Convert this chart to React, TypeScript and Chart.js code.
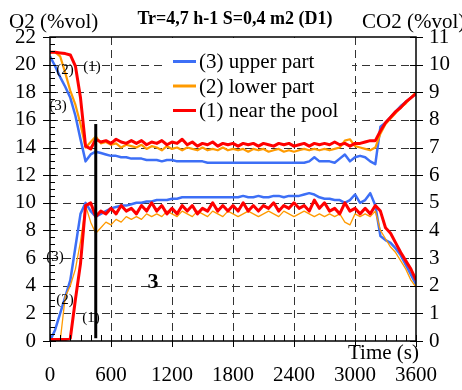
import React, { useEffect, useRef } from "react";
import { Chart, registerables } from "chart.js";
Chart.register(...registerables);

// time (s)
const TIME = [
  0, 50, 100, 150, 200, 250, 300, 350, 400, 450,
  500, 550, 600, 650, 700, 750, 800, 850, 900, 950,
  1000, 1050, 1100, 1150, 1200, 1250, 1300, 1350, 1400, 1450,
  1500, 1550, 1600, 1650, 1700, 1750, 1800, 1850, 1900, 1950,
  2000, 2050, 2100, 2150, 2200, 2250, 2300, 2350, 2400, 2450,
  2500, 2550, 2600, 2650, 2700, 2750, 2800, 2850, 2900, 2950,
  3000, 3050, 3100, 3150, 3200, 3250, 3300, 3350, 3400, 3450,
  3500, 3550, 3600,
];

// O2 (%vol), left axis
const O2_POOL = [
  20.9, 20.9, 20.85, 20.8, 20.7, 19.9, 17.6, 14.1, 13.9, 14.6,
  14.4, 14.5, 14.3, 14.6, 14.4, 14.3, 14.5, 14.3, 14.5, 14.2,
  14.4, 14.3, 14.5, 14.2, 14.4, 14.3, 14.6, 14.2, 14.4, 14.1,
  14.3, 14.2, 14.4, 14.1, 14.3, 14.2, 14.3, 14.1, 14.3, 14.2,
  14.3, 14.1, 14.3, 14.2, 14.1, 14.3, 14.2, 14.3, 14.1, 14.2,
  14.3, 14.1, 14.3, 14.2, 14.3, 14.2, 14.4, 14.2, 14.3, 14.1,
  14.3, 14.3, 14.4, 14.5, 14.5, 15.2, 15.8, 16.2, 16.6, 16.9,
  17.3, 17.6, 17.9,
];
const O2_LOWER = [
  20.9, 20.9, 20.6, 19.4, 18.1, 17.1, 15.7, 14.0, 14.4, 14.8,
  14.3, 14.4, 14.2, 14.3, 14.0, 14.2, 14.1, 14.0, 14.2, 13.9,
  14.1, 14.0, 13.8, 14.1, 13.9, 14.0, 13.8, 14.0, 13.9, 13.8,
  14.0, 13.8, 13.9, 13.8, 14.0, 13.8, 13.9, 13.8, 13.9, 13.7,
  13.9, 13.8, 13.9, 13.7, 13.8, 13.9, 13.7, 13.8, 13.7, 13.8,
  13.9, 13.8, 13.9, 13.8, 13.9, 13.8, 13.9, 14.0, 14.5, 14.6,
  14.1, 14.0, 13.9, 13.8, 14.0, 15.0, 15.7, 16.1, 16.5, 16.9,
  17.2, 17.6, 18.0,
];
const O2_UPPER = [
  20.6, 19.9, 19.1, 18.4, 17.6, 16.3, 14.6, 13.0, 13.5, 13.7,
  13.6, 13.5, 13.4, 13.4, 13.3, 13.3, 13.2, 13.2, 13.2, 13.1,
  13.1, 13.1, 13.0, 13.1, 13.1, 13.0, 13.0, 13.0, 13.0, 13.0,
  13.0, 12.9, 12.9, 12.9, 12.9, 12.9, 12.9, 12.9, 12.9, 12.9,
  12.9, 12.9, 12.9, 12.9, 12.9, 12.9, 12.9, 12.9, 12.9, 12.9,
  12.9, 13.0, 13.3, 13.0, 13.0, 13.0, 12.9, 13.2, 13.5, 13.0,
  13.3, 13.4, 13.3, 13.0, 12.8, 15.5, 15.8, 16.2, 16.6, 17.0,
  17.3, 17.6, 17.9,
];

// CO2 (%vol), right axis
const CO2_POOL = [
  0.05, 0.05, 0.05, 0.05, 0.1, 1.5, 2.8, 4.9, 5.0, 4.5,
  4.7, 4.6, 4.8, 4.6, 4.9, 4.7, 4.8, 4.6, 4.9, 4.7,
  5.0, 4.7, 4.9, 4.6, 4.8, 4.6, 4.9, 4.7, 4.9, 4.6,
  4.8, 4.7, 5.0, 4.7, 4.9, 4.7, 4.9, 4.7, 5.0, 4.7,
  4.9, 4.7, 4.9, 4.8, 5.0, 4.7, 4.9, 4.8, 5.0, 4.8,
  4.9, 4.7, 5.1, 4.8, 5.0, 4.7, 4.8, 4.6, 5.0, 4.7,
  4.8, 4.6, 4.8, 4.6, 4.9, 4.7, 4.1, 3.9, 3.55, 3.2,
  2.9, 2.6, 2.2,
];
const CO2_LOWER = [
  0.0, 0.0, 0.0, 1.6, 2.0, 2.6, 3.6, 4.9, 4.3, 3.9,
  4.1, 4.3, 4.2, 4.4, 4.3, 4.5, 4.4, 4.5, 4.4, 4.6,
  4.5, 4.6, 4.5, 4.7, 4.6, 4.5, 4.7, 4.6, 4.5, 4.7,
  4.6, 4.5, 4.7, 4.6, 4.5, 4.7, 4.6, 4.5, 4.6, 4.7,
  4.6, 4.5, 4.6, 4.7, 4.6, 4.5, 4.7, 4.6, 4.5, 4.6,
  4.7, 4.6, 4.5, 4.6, 4.5, 4.6, 4.5, 4.6, 4.3, 4.2,
  4.6, 4.5, 4.6, 4.5, 4.7, 4.0, 3.7, 3.4, 3.2, 2.9,
  2.6, 2.2, 1.95,
];
const CO2_UPPER = [
  0.0, 0.4, 1.0, 1.6, 2.2, 3.4, 4.6, 5.0, 4.7, 4.5,
  4.6, 4.7, 4.8, 4.85, 4.9, 4.9, 4.95, 5.0, 5.0, 5.05,
  5.05, 5.1, 5.1, 5.1, 5.15, 5.15, 5.2, 5.2, 5.2, 5.2,
  5.2, 5.2, 5.2, 5.2, 5.2, 5.2, 5.2, 5.2, 5.25, 5.2,
  5.2, 5.25, 5.2, 5.2, 5.25, 5.25, 5.2, 5.25, 5.25, 5.25,
  5.3, 5.35, 5.3, 5.2, 5.15, 5.15, 5.1, 5.1, 5.0, 5.1,
  5.3, 5.0, 5.1, 5.35, 4.9, 3.8, 3.65, 3.55, 3.35, 3.1,
  2.75, 2.4, 2.05,
];

const LEGEND_LABELS = ["(3) upper part", "(2) lower part", "(1) near the pool"];
const TITLE = "Tr=4,7 h-1 S=0,4 m2 (D1)";
const LEFT_TITLE = "O2 (%vol)";
const RIGHT_TITLE = "CO2 (%vol)";
const X_TITLE = "Time (s)";
// curve labels: [text, time, O2]
const CURVE_LABELS: [string, number, number][] = [
  ["(1)", 413, 19.85],
  ["(2)", 148, 19.6],
  ["(3)", 79, 17.0],
  ["(3)", 49, 6.1],
  ["(2)", 148, 2.97],
  ["(1)", 403, 1.67],
];
const PHASE_LABEL: [string, number, number] = ["3", 1013, 4.28];
const MARKER_TIME = 450;
const MARKER_TOP = 15.7;

const BLUE = "#3d6ff6";
const ORANGE = "#ff9a00";
const RED = "#ff0000";
const COLORS = [BLUE, ORANGE, RED];
const FONT = "'Liberation Serif', 'Times New Roman', serif";

const overlay = {
  id: "overlay",
  beforeDatasetsDraw(chart: any) {
    const { ctx, chartArea: a, scales } = chart;
    const x = scales.x, y = scales.y;
    ctx.save();
    ctx.strokeStyle = "#333";
    ctx.lineWidth = 1;
    ctx.setLineDash([8, 5]);
    for (let t = 600; t < 3600; t += 600) {
      const px = Math.round(x.getPixelForValue(t)) + 0.5;
      ctx.beginPath();
      ctx.moveTo(px, a.top);
      ctx.lineTo(px, a.bottom);
      ctx.stroke();
    }
    for (let v = 2; v < 22; v += 2) {
      const py = Math.round(y.getPixelForValue(v)) + 0.5;
      ctx.beginPath();
      ctx.moveTo(a.left, py);
      ctx.lineTo(a.right, py);
      ctx.stroke();
    }
    ctx.setLineDash([]);
    // legend background
    ctx.fillStyle = "#fff";
    ctx.fillRect(a.left + 116, a.top + 1, 186, 86);
    ctx.restore();
  },
  afterDatasetsDraw(chart: any) {
    const { ctx, chartArea: a, scales } = chart;
    const x = scales.x, y = scales.y, y2 = scales.y2;
    ctx.save();
    ctx.strokeStyle = "#000";
    ctx.lineWidth = 1;
    // left ticks
    for (let v = 0; v <= 22.001; v += 0.5) {
      const py = Math.round(y.getPixelForValue(v)) + 0.5;
      const major = Math.abs(v / 2 - Math.round(v / 2)) < 1e-6;
      ctx.beginPath();
      ctx.moveTo(major ? a.left - 7 : a.left, py);
      ctx.lineTo(a.left + (major ? 6 : 5), py);
      ctx.stroke();
    }
    // right ticks
    for (let v = 0; v <= 11; v += 1) {
      const py = Math.round(y2.getPixelForValue(v)) + 0.5;
      ctx.beginPath();
      ctx.moveTo(a.right - 6, py);
      ctx.lineTo(a.right + 7, py);
      ctx.stroke();
    }
    // bottom ticks
    for (let t = 0; t <= 3600; t += 100) {
      const px = Math.round(x.getPixelForValue(t)) + 0.5;
      const major = t % 600 === 0;
      ctx.beginPath();
      ctx.moveTo(px, a.bottom + (major ? 6 : 0));
      ctx.lineTo(px, a.bottom - 6);
      ctx.stroke();
    }
    // frame
    ctx.lineWidth = 1.5;
    ctx.strokeRect(a.left, a.top, a.right - a.left, a.bottom - a.top);

    // marker line
    ctx.lineWidth = 3;
    const mx = x.getPixelForValue(MARKER_TIME);
    ctx.beginPath();
    ctx.moveTo(mx, y.getPixelForValue(MARKER_TOP));
    ctx.lineTo(mx, y.getPixelForValue(0.2));
    ctx.stroke();

    // curve labels
    ctx.fillStyle = "#000";
    ctx.textAlign = "center";
    ctx.textBaseline = "middle";
    ctx.font = `15px ${FONT}`;
    for (const [txt, t, v] of CURVE_LABELS) {
      ctx.fillText(txt, x.getPixelForValue(t), y.getPixelForValue(v));
    }
    ctx.font = `bold 22px ${FONT}`;
    ctx.fillText(PHASE_LABEL[0], x.getPixelForValue(PHASE_LABEL[1]), y.getPixelForValue(PHASE_LABEL[2]));

    // legend
    ctx.font = `21px ${FONT}`;
    ctx.textAlign = "left";
    LEGEND_LABELS.forEach((lab, i) => {
      const ly = a.top + 24.5 + i * 24.5;
      ctx.strokeStyle = COLORS[i];
      ctx.lineWidth = 3;
      ctx.beginPath();
      ctx.moveTo(a.left + 123, ly);
      ctx.lineTo(a.left + 146, ly);
      ctx.stroke();
      ctx.fillText(lab, a.left + 149, ly + 1);
    });

    // titles
    ctx.fillStyle = "#000";
    ctx.font = `21px ${FONT}`;
    ctx.textAlign = "left";
    ctx.fillText(LEFT_TITLE, 9, 22);
    ctx.fillText(RIGHT_TITLE, 362, 22);
    ctx.font = `bold 18px ${FONT}`;
    ctx.textAlign = "center";
    ctx.fillText(TITLE, 235, 19);
    ctx.font = `21px ${FONT}`;
    ctx.textAlign = "right";
    ctx.fillText(X_TITLE, a.right + 3, a.bottom + 12);
    ctx.restore();
  },
};

export default function App() {
  const ref = useRef<HTMLCanvasElement>(null);
  useEffect(() => {
    const canvas = ref.current!;
    const mk = (vals: number[]) => TIME.map((t, i) => ({ x: t, y: vals[i] }));
    const tickFont = { family: FONT, size: 21 };
    const plain = (v: any) => String(v);
    const chart = new Chart(canvas, {
      type: "line",
      data: {
        datasets: [
          { label: LEGEND_LABELS[2], data: mk(O2_POOL), yAxisID: "y", borderColor: RED, borderWidth: 3 },
          { label: LEGEND_LABELS[1], data: mk(O2_LOWER), yAxisID: "y", borderColor: ORANGE, borderWidth: 2.2 },
          { label: LEGEND_LABELS[0], data: mk(O2_UPPER), yAxisID: "y", borderColor: BLUE, borderWidth: 2.5 },
          { label: LEGEND_LABELS[2], data: mk(CO2_POOL), yAxisID: "y2", borderColor: RED, borderWidth: 3 },
          { label: LEGEND_LABELS[1], data: mk(CO2_LOWER), yAxisID: "y2", borderColor: ORANGE, borderWidth: 1.3 },
          { label: LEGEND_LABELS[0], data: mk(CO2_UPPER), yAxisID: "y2", borderColor: BLUE, borderWidth: 2.5 },
        ],
      },
      options: {
        responsive: false,
        animation: false,
        layout: { padding: { top: 37, left: 0, right: 0, bottom: 0 } },
        elements: { point: { radius: 0 }, line: { tension: 0, borderJoinStyle: "round" } },
        plugins: { legend: { display: false }, tooltip: { enabled: false }, title: { display: false } },
        scales: {
          x: {
            type: "linear",
            min: 0,
            max: 3600,
            ticks: { stepSize: 600, font: tickFont, color: "#000", padding: 22, maxRotation: 0, autoSkip: false, callback: plain },
            grid: { display: false, drawTicks: false },
            border: { display: false },
            afterFit: (s: any) => { s.height = 49; },
          },
          y: {
            position: "left",
            min: 0,
            max: 22,
            ticks: { stepSize: 2, font: tickFont, color: "#000", padding: 14, autoSkip: false, callback: plain },
            grid: { display: false, drawTicks: false },
            border: { display: false },
            afterFit: (s: any) => { s.width = 50; },
          },
          y2: {
            position: "right",
            min: 0,
            max: 11,
            ticks: { stepSize: 1, font: tickFont, color: "#000", padding: 13, autoSkip: false, callback: plain },
            grid: { display: false, drawTicks: false },
            border: { display: false },
            afterFit: (s: any) => { s.width = 46; },
          },
        },
      } as any,
      plugins: [overlay],
    });
    return () => chart.destroy();
  }, []);
  return (
    <div style={{ position: "absolute", left: 0, top: 0, width: 462, height: 390, background: "#fff" }}>
      <canvas ref={ref} width={462} height={390} style={{ display: "block" }} />
    </div>
  );
}
